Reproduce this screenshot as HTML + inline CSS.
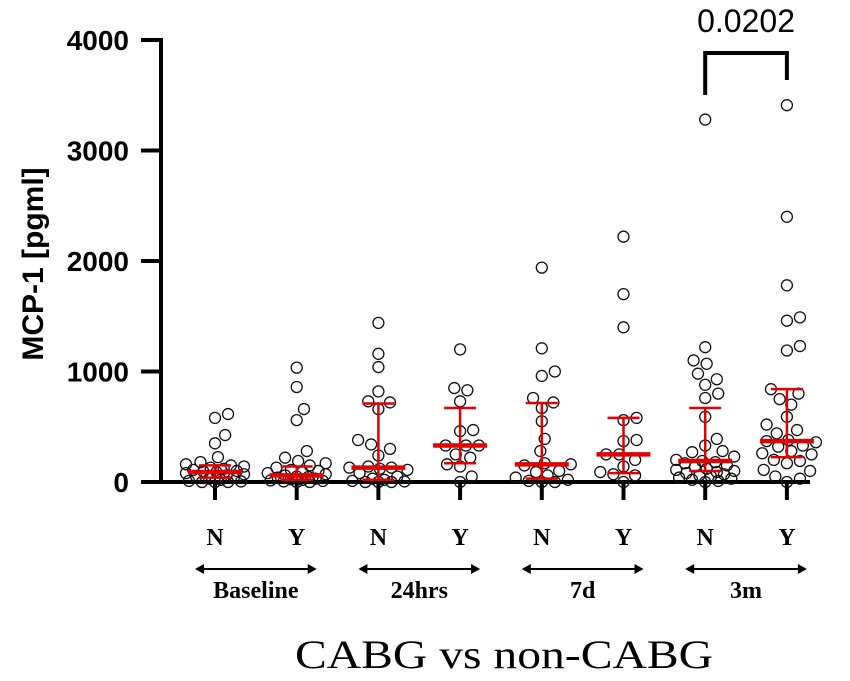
<!DOCTYPE html>
<html><head><meta charset="utf-8"><style>html,body{margin:0;padding:0;background:#fff}svg{display:block}</style></head>
<body>
<svg id="chart" width="850" height="681" viewBox="0 0 850 681" xmlns="http://www.w3.org/2000/svg">
<g id="axes"></g><g id="marks"></g><g id="labels"></g>
</svg>
<script>
const yTicks = [0, 1000, 2000, 3000, 4000];
const groupLabels = ["N","Y","N","Y","N","Y","N","Y"];
const timeLabels = ["Baseline","24hrs","7d","3m"];
const gBN = [615,580,425,350,225,180,160,150,140,130,120,110,100,95,90,80,70,60,50,40,30,20,10,5,0,0,0];
const gBY = [1035,860,660,560,280,220,190,170,150,130,110,100,90,80,70,60,50,45,40,30,25,20,15,10,5,0,0];
const g24N = [1440,1160,1040,820,730,720,660,380,340,300,240,140,130,130,120,110,80,50,30,20,10,5,0,0,0];
const g24Y = [1200,850,830,730,470,460,330,330,330,250,220,160,140,50,0];
const g7N = [1940,1210,1000,960,760,720,670,550,390,280,170,160,150,100,90,60,40,20,10,0,0];
const g7Y = [2220,1700,1400,580,560,380,370,250,250,200,140,90,70,60,0];
const g3N = [3280,1220,1100,1070,980,930,880,800,760,590,390,330,280,270,230,200,190,180,170,150,140,120,110,100,90,80,70,60,50,40,30,20,10,0];
const g3Y = [3410,2400,1780,1490,1460,1230,1190,840,800,750,700,590,520,470,440,380,370,360,330,320,280,260,250,200,190,170,110,100,50,30,0];
const medians = [90,60,130,330,160,250,190,370];
const q1s = [40,20,20,170,30,80,100,225];
const q3s = [150,140,710,670,715,580,670,840];
const pLabel = "0.0202";

const groups=[gBN,gBY,g24N,g24Y,g7N,g7Y,g3N,g3Y];
const NS="http://www.w3.org/2000/svg";
const X0=161, XEND=810, Y0=482, YTOP=40, VMAX=4000;
const yS=v=>Y0-(v/VMAX)*(Y0-YTOP);
const xS=i=>215+i*81.7;
function mk(t,a,p){const e=document.createElementNS(NS,t);for(const k in a)e.setAttribute(k,a[k]);(p||document.getElementById('marks')).appendChild(e);return e;}
const ax=document.getElementById('axes'), lb=document.getElementById('labels'), mg=document.getElementById('marks');

let e=mk('line',{x1:X0,y1:YTOP-2,x2:X0,y2:Y0+2,stroke:'#000','stroke-width':4},ax);


e=mk('line',{x1:X0-2,y1:Y0,x2:XEND,y2:Y0,stroke:'#000','stroke-width':4},ax);


yTicks.forEach(v=>{
  let t=mk('line',{x1:141,y1:yS(v),x2:X0,y2:yS(v),stroke:'#000','stroke-width':4},ax);
  
  
  let l=mk('text',{x:129,y:yS(v)+10,'text-anchor':'end','font-family':'Liberation Sans, sans-serif','font-weight':'bold','font-size':28},lb);
  l.textContent=v;
  
  
});
let yt=mk('text',{x:0,y:0,transform:'translate(43,264) rotate(-90)','text-anchor':'middle','font-family':'Liberation Sans, sans-serif','font-weight':'bold','font-size':30},lb);
yt.textContent='MCP-1 [pgml]';



groups.forEach((vals,i)=>{
  const cx=xS(i);
  let t=mk('line',{x1:cx,y1:Y0,x2:cx,y2:500,stroke:'#000','stroke-width':4},ax);
  
  
  let l=mk('text',{x:cx,y:545,'text-anchor':'middle','font-family':'Liberation Serif, serif','font-weight':'bold','font-size':24},lb);
  l.textContent=groupLabels[i];
  
  
  const d=12.5, MAXOFF=29, placed=[];
  const sorted=vals.slice().sort((a,b)=>a-b);
  const g=mk('g',{},mg);
  
  
  sorted.forEach(v=>{
    const y=yS(v); let best=null, bestScore=-1;
    for(let k=0;k<=40;k++){
      const off=(k%2?1:-1)*Math.ceil(k/2)*1.45;
      if(Math.abs(off)>MAXOFF) break;
      const md=placed.length?Math.min(...placed.map(p=>Math.hypot(p[0]-off,p[1]-y))):99;
      if(md>=d){best=off;break;}
      if(md>bestScore){bestScore=md;best=off;}
    }
    placed.push([best,y]);
    let c=mk('circle',{cx:cx+best,cy:y,r:5.5,fill:'none',stroke:'#111','stroke-width':1.3},g);
    
    
  });
  const eg=mk('g',{stroke:'#e00000'},mg);
  
  
  mk('line',{x1:cx,y1:yS(q1s[i]),x2:cx,y2:yS(q3s[i]),'stroke-width':2.5},eg);
  mk('line',{x1:cx-16,y1:yS(q1s[i]),x2:cx+16,y2:yS(q1s[i]),'stroke-width':2.5},eg);
  mk('line',{x1:cx-16,y1:yS(q3s[i]),x2:cx+16,y2:yS(q3s[i]),'stroke-width':2.5},eg);
  let m=mk('line',{x1:cx-27,y1:yS(medians[i]),x2:cx+27,y2:yS(medians[i]),'stroke-width':4.5},eg);
  
  
});
timeLabels.forEach((t,j)=>{
  const a=xS(2*j)-20, b=xS(2*j+1)+20, y=569, cx=(xS(2*j)+xS(2*j+1))/2;
  const g=mk('g',{},lb);
  
  
  mk('line',{x1:a+4,y1:y,x2:b-4,y2:y,stroke:'#000','stroke-width':2},g);
  mk('path',{d:`M${a} ${y} l9 -5 l0 10 z M${b} ${y} l-9 -5 l0 10 z`,fill:'#000'},g);
  let l=mk('text',{x:cx,y:598,'text-anchor':'middle','font-family':'Liberation Serif, serif','font-weight':'bold','font-size':24},lb);
  l.textContent=t;
  
  
});
let xt=mk('text',{x:504,y:668,'text-anchor':'middle','font-family':'Liberation Serif, serif','font-size':40,textLength:418,lengthAdjust:'spacingAndGlyphs'},lb);
xt.textContent='CABG vs non-CABG';


let br=mk('path',{d:`M${xS(6)} 95 V53 H${xS(7)} V80`,fill:'none',stroke:'#000','stroke-width':4},lb);


let pt=mk('text',{x:(xS(6)+xS(7))/2,y:32,'text-anchor':'middle','font-family':'Liberation Sans, sans-serif','font-size':32},lb);
pt.textContent=pLabel;


</script>
</body></html>
